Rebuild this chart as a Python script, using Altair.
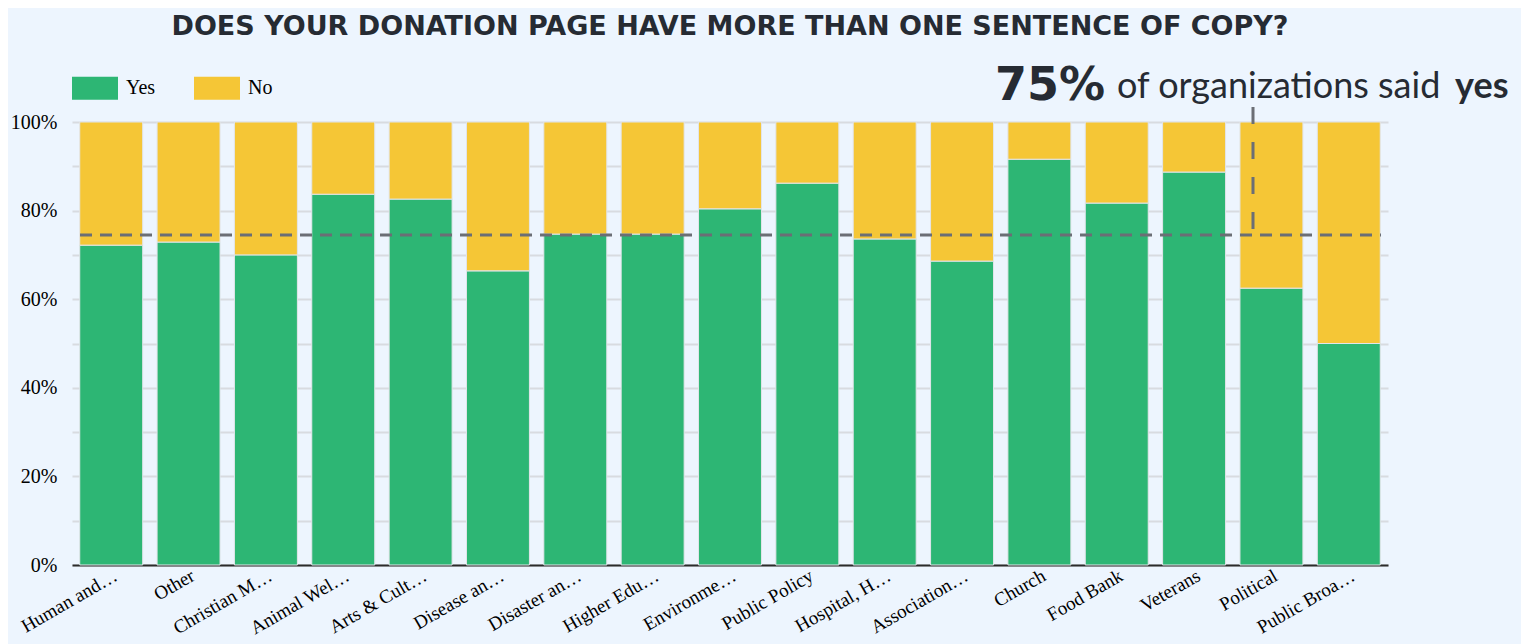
import altair as alt
import pandas as pd

# ---- data ----
categories = ["Human and…", "Other", "Christian M…", "Animal Wel…", "Arts & Cult…",
              "Disease an…", "Disaster an…", "Higher Edu…", "Environme…", "Public Policy",
              "Hospital, H…", "Association…", "Church", "Food Bank", "Veterans",
              "Political", "Public Broa…"]
yes_pct = [72.2, 72.9, 70.0, 83.7, 82.6, 66.4, 74.7, 74.7, 80.4, 86.2,
           73.6, 68.6, 91.6, 81.7, 88.7, 62.5, 50.0]
series = ["Yes", "No"]
series_colors = ["#2db674", "#f5c636"]
average_yes = 74.5
grid_values = [0, 10, 20, 30, 40, 50, 60, 70, 80, 90, 100]
title_text = "DOES YOUR DONATION PAGE HAVE MORE THAN ONE SENTENCE OF COPY?"
annotation_parts = ["75%", "of organizations said", "yes"]

rows = []
for c, y in zip(categories, yes_pct):
    rows.append({"category": c, "answer": "Yes", "pct": y, "ord": 0})
    rows.append({"category": c, "answer": "No", "pct": round(100 - y, 1), "ord": 1})
df = pd.DataFrame(rows)

W, H = 1316, 443
INK = "#262b33"
SERIF = "Liberation Serif"

bars = alt.Chart(df).mark_bar(stroke="#e2e5ea", strokeWidth=1).encode(
    x=alt.X("category:N", sort=categories,
            scale=alt.Scale(paddingInner=0.186, paddingOuter=0.1),
            axis=alt.Axis(title=None, labelAngle=-30, labelFont=SERIF, labelFontSize=19,
                          labelColor="#000000", ticks=False, domainColor="#2b2b2b",
                          domainWidth=2, labelPadding=1, grid=False)),
    y=alt.Y("pct:Q", stack="zero", scale=alt.Scale(domain=[0, 100], nice=False),
            axis=alt.Axis(title=None, values=grid_values,
                          labelExpr="datum.value % 20 == 0 ? datum.value + '%' : ''",
                          labelFont=SERIF, labelFontSize=20, labelColor="#000000",
                          ticks=False, domain=False, labelPadding=15,
                          gridColor="#d8dbe0", gridWidth=2)),
    color=alt.Color("answer:N", sort=series,
                    scale=alt.Scale(domain=series, range=series_colors),
                    legend=alt.Legend(title=None, orient="none", legendX=0, legendY=-57,
                                      direction="horizontal",
                                      symbolType="M-1,-0.5H1V0.5H-1Z",
                                      symbolSize=2116, symbolStrokeWidth=0,
                                      labelFont=SERIF, labelFontSize=20,
                                      labelColor="#000000", labelOffset=8,
                                      columnPadding=38, padding=0)),
    order=alt.Order("ord:Q"),
)

avg_df = pd.DataFrame({"pct": [average_yes]})
avg_line = alt.Chart(avg_df).mark_rule(color="#6b6e75", strokeWidth=3,
                                       strokeDash=[12, 8]).encode(
    y="pct:Q", x=alt.value(8), x2=alt.value(1309))

pointer = alt.Chart(avg_df).mark_rule(color="#6b6e75", strokeWidth=3,
                                      strokeDash=[17, 18]).encode(
    x=alt.value(1181), y=alt.value(-15), y2=alt.value(107))

ann_df = pd.DataFrame({"t": annotation_parts})
t_big = alt.Chart(ann_df).transform_filter(alt.datum.t == annotation_parts[0]).mark_text(
    align="right", baseline="alphabetic", font="DejaVu Sans", fontSize=46,
    fontWeight="bold", color=INK).encode(text="t:N", x=alt.value(1033), y=alt.value(-22))
t_mid = alt.Chart(ann_df).transform_filter(alt.datum.t == annotation_parts[1]).mark_text(
    align="left", baseline="alphabetic", font="Lato", fontSize=36,
    color=INK).encode(text="t:N", x=alt.value(1045), y=alt.value(-24))
t_end = alt.Chart(ann_df).transform_filter(alt.datum.t == annotation_parts[2]).mark_text(
    align="left", baseline="alphabetic", font="Lato", fontSize=36, fontWeight="bold",
    color=INK).encode(text="t:N", x=alt.value(1383), y=alt.value(-24))

chart = alt.layer(bars, avg_line, pointer, t_big, t_mid, t_end).properties(
    width=W, height=H,
    title=alt.TitleParams(title_text, font="DejaVu Sans", fontSize=27, fontWeight="bold",
                          color=INK, anchor="middle", offset=22),
    autosize=alt.AutoSizeParams(type="none"),
    padding={"left": 64, "top": 114, "right": 133, "bottom": 79},
    background="#edf5fe",
).configure_view(stroke=None)

chart.save("out.html", embed_options={"renderer": "svg", "actions": False})
